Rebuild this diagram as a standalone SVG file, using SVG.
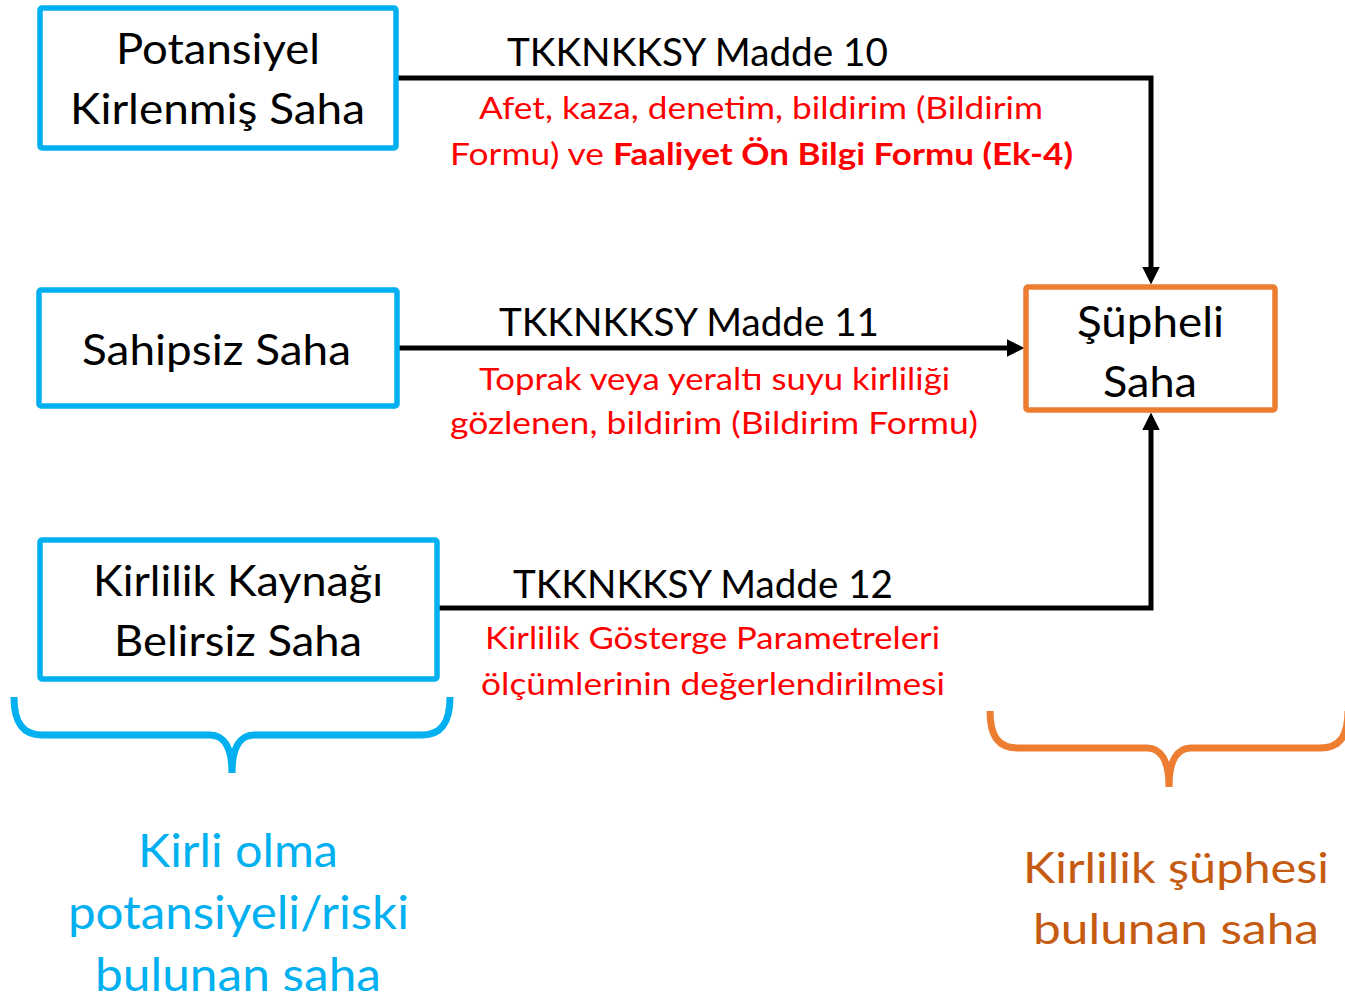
<svg xmlns="http://www.w3.org/2000/svg" width="1345" height="999" viewBox="0 0 1345 999">
<style>
.box{fill:#fff;stroke:#00B0F0;stroke-width:5.5}
.obox{fill:#fff;stroke:#ED7D31;stroke-width:5.5}
.t{font-family:Lato,"Liberation Sans",sans-serif;fill:#000}
.big{font-size:42px}
.lab{font-size:38px}
.red{font-size:31px;fill:#FF0000}
.b{font-weight:bold}
.conn{fill:none;stroke:#000;stroke-width:5}
.brace{fill:none;stroke-width:7}
</style>
<defs>
<marker id="ah" viewBox="0 0 10 10" refX="0" refY="5" markerWidth="3.5" markerHeight="3.5" orient="auto" markerUnits="strokeWidth">
<path d="M0,0 L10,5 L0,10 z" fill="#000"/>
</marker>
</defs>
<g id="connectors">
<path class="conn" d="M397,78 H1151 V267" marker-end="url(#ah)"/>
<path class="conn" d="M397,348 H1007" marker-end="url(#ah)"/>
<path class="conn" d="M437,608 H1151 V430" marker-end="url(#ah)"/>
</g>
<g id="node-potansiyel">
<rect class="box" x="40" y="8" width="356" height="140" rx="2"/>
<text class="t big" x="116" y="64" textLength="204" lengthAdjust="spacingAndGlyphs">Potansiyel</text>
<text class="t big" x="70" y="124" textLength="295" lengthAdjust="spacingAndGlyphs">Kirlenmiş Saha</text>
</g>
<g id="node-sahipsiz">
<rect class="box" x="39" y="290" width="358" height="116" rx="2"/>
<text class="t big" x="82" y="365" textLength="269" lengthAdjust="spacingAndGlyphs">Sahipsiz Saha</text>
</g>
<g id="node-kaynak">
<rect class="box" x="40" y="540" width="397" height="139" rx="2"/>
<text class="t big" x="93" y="596" textLength="290" lengthAdjust="spacingAndGlyphs">Kirlilik Kaynağı</text>
<text class="t big" x="114" y="656" textLength="248" lengthAdjust="spacingAndGlyphs">Belirsiz Saha</text>
</g>
<g id="node-supheli">
<rect class="obox" x="1026" y="287" width="249" height="123" rx="2"/>
<text class="t big" x="1077" y="337" textLength="147" lengthAdjust="spacingAndGlyphs">Şüpheli</text>
<text class="t big" x="1103" y="397" textLength="94" lengthAdjust="spacingAndGlyphs">Saha</text>
</g>
<g id="labels">
<text class="t lab" x="507" y="66" textLength="381" lengthAdjust="spacingAndGlyphs">TKKNKKSY Madde 10</text>
<text class="t red" x="479" y="119" textLength="564" lengthAdjust="spacingAndGlyphs">Afet, kaza, denetim, bildirim (Bildirim</text>
<text class="t red" x="450" y="165" textLength="154" lengthAdjust="spacingAndGlyphs">Formu) ve</text>
<text class="t red b" x="613" y="165" textLength="460" lengthAdjust="spacingAndGlyphs">Faaliyet Ön Bilgi Formu (Ek-4)</text>
<text class="t lab" x="499" y="336" textLength="380" lengthAdjust="spacingAndGlyphs">TKKNKKSY Madde 11</text>
<text class="t red" x="479" y="390" textLength="471" lengthAdjust="spacingAndGlyphs">Toprak veya yeraltı suyu kirliliği</text>
<text class="t red" x="450" y="434" textLength="528" lengthAdjust="spacingAndGlyphs">gözlenen, bildirim (Bildirim Formu)</text>
<text class="t lab" x="513" y="598" textLength="380" lengthAdjust="spacingAndGlyphs">TKKNKKSY Madde 12</text>
<text class="t red" x="485" y="649" textLength="455" lengthAdjust="spacingAndGlyphs">Kirlilik Gösterge Parametreleri</text>
<text class="t red" x="481" y="695" textLength="464" lengthAdjust="spacingAndGlyphs">ölçümlerinin değerlendirilmesi</text>
</g>
<g id="brace-blue">
<path class="brace" stroke="#00B0F0" d="M14,697 C14,722 22,735 42,735 L210,735 C224,735 232,748 232,773 M450,697 C450,722 442,735 422,735 L254,735 C240,735 232,748 232,773"/>
<text class="t" style="font-size:46px;fill:#00B0F0" x="138" y="867" textLength="200" lengthAdjust="spacingAndGlyphs">Kirli olma</text>
<text class="t" style="font-size:46px;fill:#00B0F0" x="68" y="929" textLength="341" lengthAdjust="spacingAndGlyphs">potansiyeli/riski</text>
<text class="t" style="font-size:46px;fill:#00B0F0" x="95" y="991" textLength="286" lengthAdjust="spacingAndGlyphs">bulunan saha</text>
</g>
<g id="brace-orange">
<path class="brace" stroke="#ED7D31" d="M990,711 C990,736 998,748 1018,748 L1147,748 C1161,748 1169,761 1169,787 M1348,711 C1348,736 1340,748 1320,748 L1191,748 C1177,748 1169,761 1169,787"/>
<text class="t" style="font-size:43px;fill:#C55A11" x="1023" y="883" textLength="306" lengthAdjust="spacingAndGlyphs">Kirlilik şüphesi</text>
<text class="t" style="font-size:43px;fill:#C55A11" x="1033" y="944" textLength="286" lengthAdjust="spacingAndGlyphs">bulunan saha</text>
</g>
</svg>
